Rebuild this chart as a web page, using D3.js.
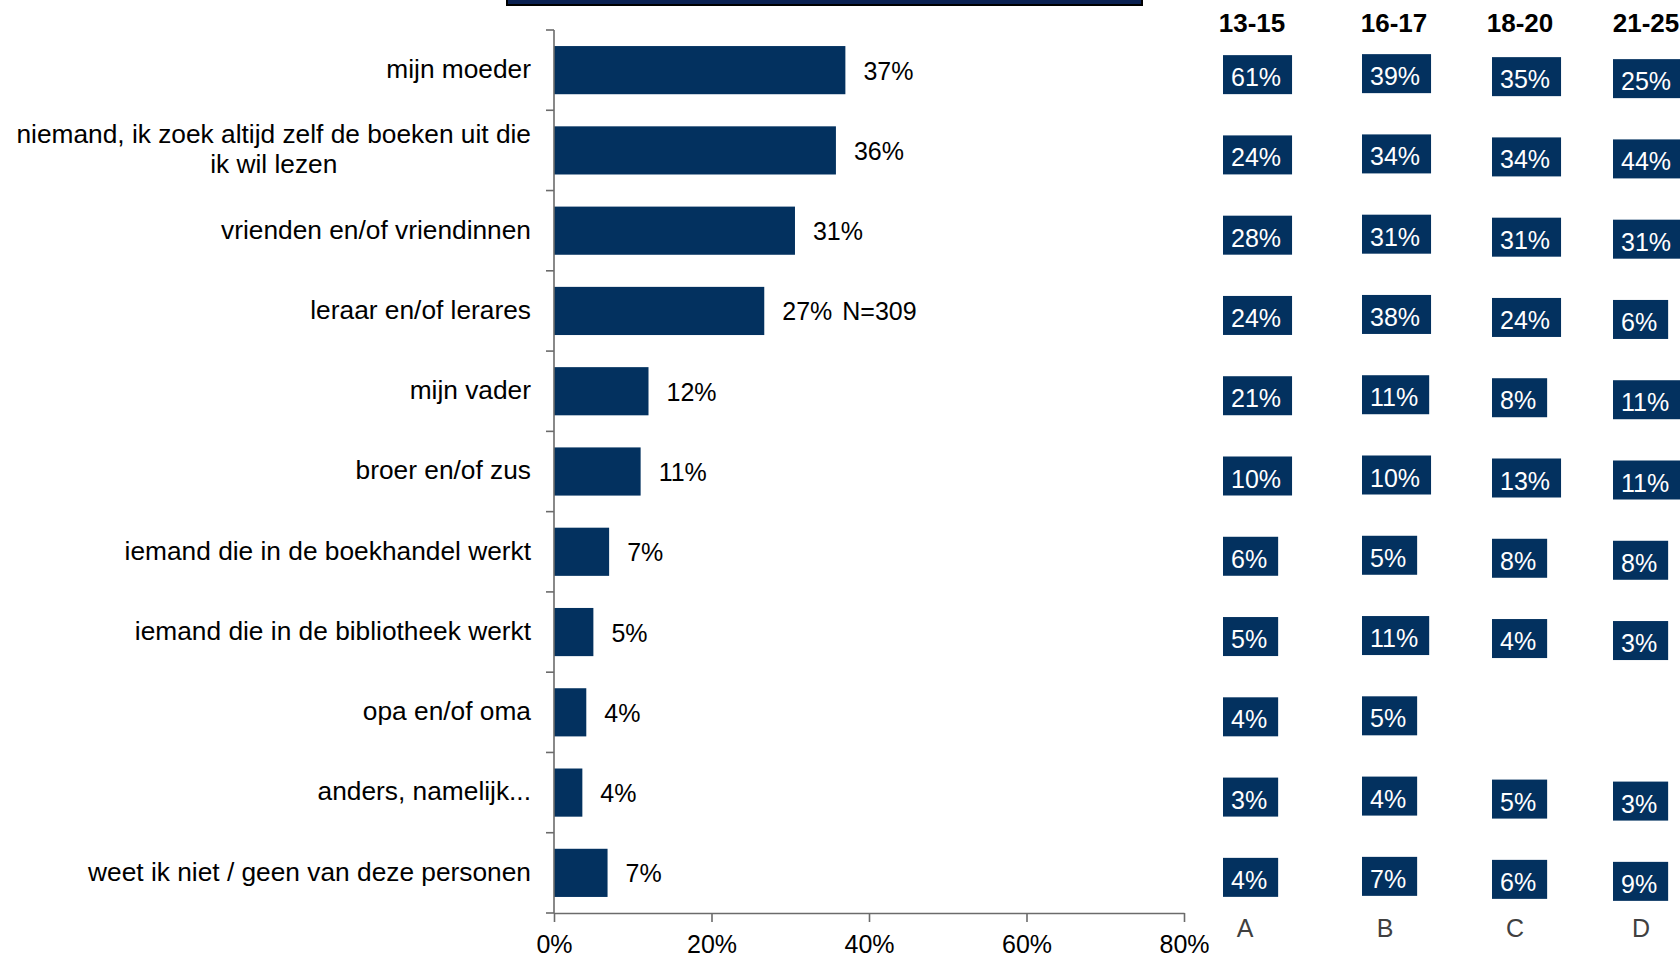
<html><head>
<title>Wie helpt bij het kiezen van boeken</title>
<script src="https://d3js.org/d3.v7.min.js"></script>
<style>
  body { margin: 0; background: #fff; }
  svg text { font-family: "Liberation Sans", Arial, sans-serif; }
</style>
</head>
<body>
<svg id="plot" width="1680" height="955"></svg>

<script>
// ---- data ----
const categories = [
  "mijn moeder",
  "niemand, ik zoek altijd zelf de boeken uit die ik wil lezen",
  "vrienden en/of vriendinnen",
  "leraar en/of lerares",
  "mijn vader",
  "broer en/of zus",
  "iemand die in de boekhandel werkt",
  "iemand die in de bibliotheek werkt",
  "opa en/of oma",
  "anders, namelijk...",
  "weet ik niet / geen van deze personen"
];
const totals = [37.0, 35.8, 30.6, 26.7, 12.0, 11.0, 7.0, 5.0, 4.1, 3.6, 6.8];
const sampleNote = "N=309";   // shown behind the 4th bar

const ageGroups = ["13-15", "16-17", "18-20", "21-25"];
const groupLetters = ["A", "B", "C", "D"];
const groupA = [61, 24, 28, 24, 21, 10, 6, 5, 4, 3, 4];
const groupB = [39, 34, 31, 38, 11, 10, 5, 11, 5, 4, 7];
const groupC = [35, 34, 31, 24, 8, 13, 8, 4, null, 5, 6];
const groupD = [25, 44, 31, 6, 11, 11, 8, 3, null, 3, 9];
const groupValues = [groupA, groupB, groupC, groupD];

const xTicks = [0, 20, 40, 60, 80];

// ---- layout ----
const svg = d3.select("svg#plot");
const navy = "#03315f";
const axisColor = "#6b6b6b";
const axisX = 554, axisTop = 30, axisBottom = 913, axisRight = 1184;
const colLeft = [1223, 1362, 1492, 1613];     // box columns
const colShift = [0, -1, 2, 4];               // small vertical offsets per column
const headerX = [1252, 1394, 1520, 1646];
const letterX = [1245, 1385, 1515, 1641];

let x = d3.scaleLinear().domain([0, 80]).range([axisX, axisRight]);
let y = d3.scaleBand().domain(categories).range([axisTop, axisBottom])
          .paddingInner(0.4).paddingOuter(0.2);
const step = y.step();

// clipped title box at the very top
svg.append("rect")
   .attr("x", 507).attr("y", -40)
   .attr("width", 635).attr("height", 45)
   .attr("fill", "#0b2152").attr("stroke", "#000").attr("stroke-width", 2);

// bars
let chart = svg.append("g").attr("id", "bars");
chart.selectAll("rect")
     .data(categories)
     .join("rect")
     .attr("x", x(0))
     .attr("y", d => y(d))
     .attr("width", (d, i) => x(totals[i]) - x(0))
     .attr("height", y.bandwidth())
     .attr("fill", navy);

// value labels
chart.selectAll("text.val")
     .data(categories)
     .join("text")
     .attr("class", "val")
     .attr("x", (d, i) => x(totals[i]) + 18)
     .attr("y", d => y(d) + y.bandwidth() / 2)
     .attr("dy", "0.38em")
     .attr("font-size", 25)
     .attr("fill", "#000")
     .text((d, i) => Math.round(totals[i]) + "%")
     .filter((d, i) => i === 3)
     .append("tspan")
     .attr("dx", 10)
     .text(sampleNote);

// category labels (wrapped, right aligned against the axis)
let labels = svg.append("g").attr("id", "labels");
const labelRight = 531, maxW = 522, lineH = 30;
categories.forEach((name, i) => {
  let t = labels.append("text")
                .attr("font-size", 26.3)
                .attr("fill", "#000");
  // greedy wrap
  let words = name.split(" "), lines = [], cur = "";
  let probe = t.append("tspan");
  words.forEach(w => {
    let test = cur ? cur + " " + w : w;
    probe.text(test);
    if (probe.node().getComputedTextLength() > maxW && cur) {
      lines.push(cur); cur = w;
    } else cur = test;
  });
  lines.push(cur);
  probe.remove();
  let cy = y(name) + y.bandwidth() / 2;
  if (lines.length === 1) {
    t.attr("text-anchor", "end").attr("x", labelRight)
     .attr("y", cy).attr("dy", "0.3em").text(lines[0]);
  } else {
    t.attr("text-anchor", "middle");
    let spans = lines.map((l, k) => t.append("tspan")
                   .attr("y", cy + (k - (lines.length - 1) / 2) * lineH)
                   .attr("dy", "0.3em").text(l));
    let wMax = d3.max(spans, s => s.node().getComputedTextLength());
    spans.forEach(s => s.attr("x", labelRight - wMax / 2));
  }
});

// y axis with ticks on band boundaries
let yAxis = svg.append("g").attr("id", "yaxis")
               .attr("stroke", axisColor).attr("stroke-width", 1.6);
yAxis.append("line")
     .attr("x1", axisX).attr("x2", axisX)
     .attr("y1", axisTop).attr("y2", axisBottom);
yAxis.selectAll("line.tick")
     .data(d3.range(categories.length + 1))
     .join("line")
     .attr("class", "tick")
     .attr("x1", axisX - 8).attr("x2", axisX)
     .attr("y1", k => axisTop + k * step)
     .attr("y2", k => axisTop + k * step);

// x axis
let xAxis = svg.append("g")
   .attr("transform", "translate(0," + axisBottom + ")")
   .call(d3.axisBottom(x).tickValues(xTicks).tickFormat(d => d + "%")
           .tickSize(9).tickSizeOuter(0).tickPadding(13));
xAxis.select(".domain").attr("stroke", axisColor).attr("stroke-width", 1.6);
xAxis.selectAll(".tick line").attr("stroke", axisColor).attr("stroke-width", 1.6);
xAxis.selectAll(".tick text")
     .attr("font-size", 25)
     .attr("font-family", "'Liberation Sans', Arial, sans-serif")
     .attr("fill", "#000");

// age group headers + letters
svg.selectAll("text.header")
   .data(ageGroups)
   .join("text")
   .attr("class", "header")
   .attr("x", (d, j) => headerX[j])
   .attr("y", 32)
   .attr("text-anchor", "middle")
   .attr("font-size", 26)
   .attr("font-weight", "bold")
   .attr("fill", "#000")
   .text(d => d);

svg.selectAll("text.letter")
   .data(groupLetters)
   .join("text")
   .attr("class", "letter")
   .attr("x", (d, j) => letterX[j])
   .attr("y", 937)
   .attr("text-anchor", "middle")
   .attr("font-size", 25)
   .attr("fill", "#404040")
   .text(d => d);

// boxed percentages per age group
const boxH = 39;
groupValues.forEach((vals, j) => {
  let g = svg.append("g").attr("class", "group-" + groupLetters[j]);
  categories.forEach((name, i) => {
    if (vals[i] == null) return;
    let top = y(name) + y.bandwidth() / 2 - 15 + colShift[j];
    let cell = g.append("g").attr("transform", "translate(" + colLeft[j] + "," + top + ")");
    let rect = cell.append("rect").attr("height", boxH).attr("fill", navy);
    let txt = cell.append("text")
                  .attr("x", 8).attr("y", 31)
                  .attr("font-size", 25)
                  .attr("fill", "#fff")
                  .text(vals[i] + "%");
    rect.attr("width", txt.node().getComputedTextLength() + 19);
  });
});
</script>
</body>
</html>
